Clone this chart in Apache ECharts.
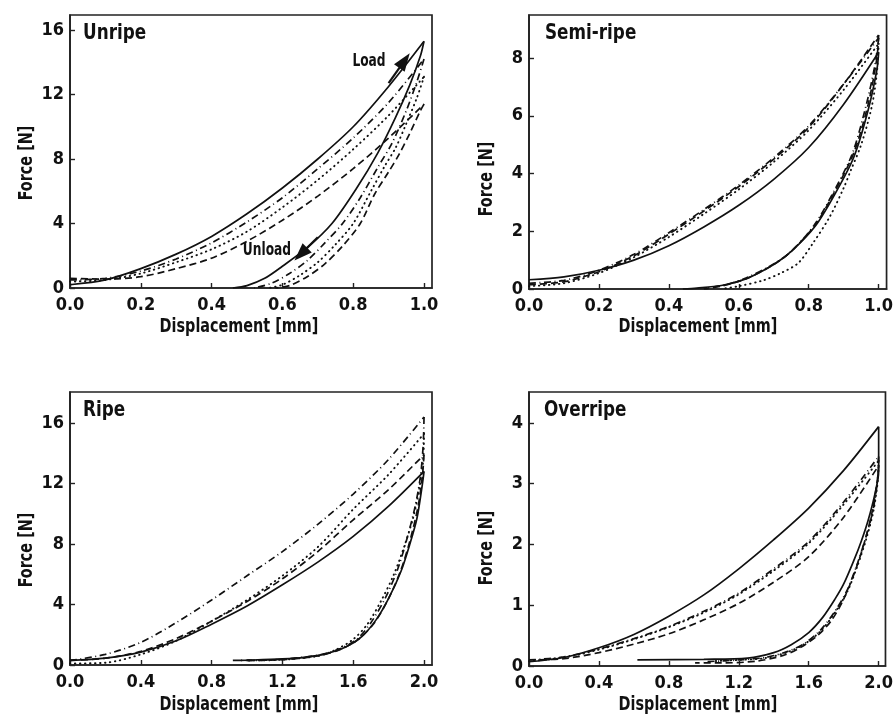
<!DOCTYPE html>
<html><head><meta charset="utf-8">
<script src="https://cdn.jsdelivr.net/npm/echarts@6/dist/echarts.min.js"></script>
<style>html,body{margin:0;padding:0;background:#fff}#c{width:896px;height:717px}</style>
</head><body><div id="c"></div>
<script>
// ---------- data ----------
const panelTitles = ['Unripe', 'Semi-ripe', 'Ripe', 'Overripe'];
const xAxisTitle = 'Displacement [mm]';
const yAxisTitle = 'Force [N]';
const xTicks12 = [0, 0.2, 0.4, 0.6, 0.8, 1.0];
const xTicks34 = [0, 0.4, 0.8, 1.2, 1.6, 2.0];
const yTicksUnripe = [0, 4, 8, 12, 16];
const yTicksSemi = [0, 2, 4, 6, 8];
const yTicksRipe = [0, 4, 8, 12, 16];
const yTicksOver = [0, 1, 2, 3, 4];

// Unripe (displacement 0..1 mm)
const unripeLoadX = [0, 0.1, 0.2, 0.3, 0.4, 0.5, 0.6, 0.7, 0.8, 0.9, 1.0];
const unripeSolidLoad = [0.2, 0.5, 1.2, 2.1, 3.2, 4.6, 6.2, 8.0, 10.0, 12.5, 15.3];
const unripeDashDotLoad = [0.5, 0.6, 1.05, 1.8, 2.8, 4.1, 5.6, 7.4, 9.3, 11.5, 14.2];
const unripeDottedLoad = [0.4, 0.5, 0.9, 1.6, 2.4, 3.5, 5.0, 6.7, 8.6, 10.7, 13.1];
const unripeDashedLoad = [0.6, 0.55, 0.7, 1.2, 1.85, 2.9, 4.2, 5.7, 7.4, 9.3, 11.4];
const unripeSolidUnload = [[1.0,15.3],[0.99,14.4],[0.96,12.6],[0.92,10.6],[0.87,8.4],[0.81,6.2],[0.74,4.0],[0.67,2.5],[0.6,1.35],[0.55,0.6],[0.5,0.15],[0.46,0.0]];
const unripeDashDotUnload = [[1.0,14.2],[0.98,12.8],[0.95,11.0],[0.91,9.0],[0.87,7.5],[0.82,5.6],[0.77,4.0],[0.72,2.8],[0.67,1.7],[0.62,0.9],[0.57,0.3],[0.52,0.0]];
const unripeDottedUnload = [[1.0,13.1],[0.98,11.8],[0.95,10.2],[0.92,8.7],[0.89,7.6],[0.85,6.0],[0.8,4.0],[0.75,2.7],[0.7,1.6],[0.65,0.8],[0.6,0.2],[0.56,0.0]];
const unripeDashedUnload = [[1.0,11.4],[0.99,11.0],[0.96,9.6],[0.93,8.3],[0.9,7.2],[0.86,5.8],[0.82,4.0],[0.77,2.6],[0.72,1.5],[0.67,0.7],[0.62,0.15],[0.58,0.0]];

// Semi-ripe (0..1 mm)
const semiLoadX = [0, 0.1, 0.2, 0.3, 0.4, 0.5, 0.6, 0.7, 0.8, 0.9, 1.0];
const semiSolidLoad = [0.32, 0.42, 0.65, 1.0, 1.5, 2.15, 2.9, 3.8, 4.9, 6.4, 8.2];
const semiDashedLoad = [0.15, 0.25, 0.6, 1.15, 1.9, 2.7, 3.55, 4.5, 5.6, 7.1, 8.8];
const semiDashDotLoad = [0.2, 0.3, 0.65, 1.2, 1.95, 2.75, 3.6, 4.55, 5.65, 7.1, 8.7];
const semiDottedLoad = [0.1, 0.2, 0.55, 1.1, 1.8, 2.6, 3.45, 4.4, 5.5, 6.9, 8.5];
const semiSolidUnload = [[1.0,8.2],[0.995,7.6],[0.97,6.2],[0.93,4.6],[0.88,3.4],[0.82,2.2],[0.75,1.3],[0.7,0.85],[0.62,0.35],[0.55,0.12],[0.48,0.03],[0.44,0.0]];
const semiDashedUnload = [[1.0,8.8],[0.995,8.0],[0.97,6.4],[0.93,4.75],[0.88,3.5],[0.82,2.25],[0.75,1.3],[0.7,0.85],[0.62,0.35],[0.55,0.1],[0.5,0.0]];
const semiDashDotUnload = [[1.0,8.7],[0.99,7.8],[0.965,6.4],[0.925,4.7],[0.875,3.45],[0.815,2.2],[0.745,1.25],[0.69,0.8],[0.62,0.38],[0.56,0.14],[0.5,0.02]];
const semiDottedUnload = [[1.0,8.5],[0.995,7.5],[0.98,6.3],[0.95,5.0],[0.92,4.1],[0.9,3.5],[0.86,2.5],[0.81,1.55],[0.77,0.9],[0.72,0.55],[0.67,0.3],[0.6,0.1],[0.55,0.0]];

// Ripe (0..2 mm)
const ripeLoadX = [0, 0.2, 0.4, 0.6, 0.8, 1.0, 1.2, 1.4, 1.6, 1.8, 2.0];
const ripeSolidLoad = [0.3, 0.45, 0.85, 1.6, 2.7, 3.9, 5.3, 6.8, 8.5, 10.5, 12.8];
const ripeDashDotLoad = [0.3, 0.7, 1.5, 2.8, 4.3, 5.9, 7.5, 9.3, 11.3, 13.6, 16.4];
const ripeDottedLoad = [0.1, 0.15, 0.7, 1.6, 2.9, 4.3, 5.9, 7.8, 10.3, 12.6, 15.3];
const ripeDashedLoad = [0.3, 0.45, 0.9, 1.75, 2.9, 4.2, 5.7, 7.5, 9.6, 11.6, 13.9];
const ripeSolidUnload = [[2.0,12.8],[1.99,11.9],[1.96,9.7],[1.92,8.0],[1.87,6.2],[1.8,4.4],[1.73,3.0],[1.65,1.9],[1.56,1.2],[1.45,0.75],[1.32,0.5],[1.2,0.4],[1.0,0.32],[0.92,0.3]];
const ripeDashDotUnload = [[2.0,16.4],[1.995,14.5],[1.98,12.5],[1.95,10.5],[1.9,8.2],[1.85,6.3],[1.78,4.4],[1.7,2.8],[1.62,1.7],[1.52,1.05],[1.4,0.65],[1.2,0.38],[1.0,0.3],[0.95,0.3]];
const ripeDottedUnload = [[2.0,15.3],[1.995,13.5],[1.975,11.8],[1.94,9.8],[1.89,7.9],[1.83,6.0],[1.76,4.3],[1.68,2.7],[1.6,1.7],[1.5,1.0],[1.4,0.6],[1.2,0.35],[1.0,0.3]];
const ripeDashedUnload = [[2.0,13.9],[1.99,12.4],[1.965,10.4],[1.92,8.2],[1.87,6.3],[1.8,4.4],[1.72,2.8],[1.63,1.7],[1.53,1.05],[1.4,0.6],[1.2,0.35],[1.0,0.3]];

// Overripe (0..2 mm)
const overLoadX = [0, 0.2, 0.4, 0.6, 0.8, 1.0, 1.2, 1.4, 1.6, 1.8, 2.0];
const overSolidLoad = [0.07, 0.14, 0.3, 0.52, 0.82, 1.17, 1.6, 2.08, 2.6, 3.22, 3.94];
const overDashDotLoad = [0.1, 0.15, 0.28, 0.45, 0.65, 0.9, 1.2, 1.6, 2.05, 2.7, 3.45];
const overDottedLoad = [0.08, 0.14, 0.27, 0.44, 0.64, 0.88, 1.18, 1.57, 2.02, 2.66, 3.38];
const overDashedLoad = [0.1, 0.12, 0.22, 0.36, 0.53, 0.76, 1.03, 1.38, 1.8, 2.45, 3.3];
const overSolidUnload = [[2.0,3.94],[2.0,3.2],[1.98,2.85],[1.94,2.4],[1.9,2.05],[1.86,1.75],[1.8,1.35],[1.75,1.1],[1.68,0.8],[1.6,0.55],[1.5,0.35],[1.4,0.22],[1.25,0.13],[1.0,0.11],[0.62,0.1]];
const overDashDotUnload = [[2.0,3.45],[1.995,3.1],[1.97,2.6],[1.93,2.15],[1.88,1.7],[1.82,1.25],[1.75,0.9],[1.67,0.6],[1.58,0.38],[1.48,0.24],[1.35,0.14],[1.2,0.1],[1.0,0.07]];
const overDottedUnload = [[2.0,3.38],[1.995,3.05],[1.97,2.55],[1.93,2.1],[1.88,1.66],[1.82,1.22],[1.75,0.88],[1.67,0.58],[1.58,0.37],[1.48,0.23],[1.35,0.13],[1.2,0.1],[1.05,0.08]];
const overDashedUnload = [[2.0,3.3],[1.99,3.0],[1.96,2.5],[1.92,2.05],[1.87,1.6],[1.8,1.1],[1.73,0.75],[1.65,0.5],[1.55,0.3],[1.45,0.17],[1.3,0.08],[1.1,0.05],[0.95,0.05]];

// annotation arrows (data coords, Unripe panel)
const loadArrow = [[0.9, 12.7], [0.945, 14.1]];
const unloadArrow = [[0.70, 3.15], [0.652, 2.1]];

// ---------- chart ----------
const FONT = "'DejaVu Sans Condensed','Liberation Sans Narrow',sans-serif";
const INK = '#111';
const STYLES = {
  solid: {type: 'solid', width: 1.7},
  dashed: {type: [7, 4], width: 1.7},
  dotted: {type: [0.5, 4.5], width: 1.9, cap: 'round'},
  dashdot: {type: [7, 3.5, 1, 3.5], width: 1.7}
};

const panels = [
  {grid: {left: 70, top: 15, width: 362, height: 273}, xMax: 1.0226, xInt: 0.2, xTicks: xTicks12, yMax: 16.93, yInt: 4, yTicks: yTicksUnripe,
   title: [83, 33], xName: [239, 327], yName: [27, 163],
   curves: [['solid', unripeLoadX, unripeSolidLoad, unripeSolidUnload], ['dashdot', unripeLoadX, unripeDashDotLoad, unripeDashDotUnload],
            ['dotted', unripeLoadX, unripeDottedLoad, unripeDottedUnload], ['dashed', unripeLoadX, unripeDashedLoad, unripeDashedUnload]]},
  {grid: {left: 529, top: 15, width: 362, height: 274}, xMax: 1.0226, xInt: 0.2, xTicks: xTicks12, yMax: 9.49, yInt: 2, yTicks: yTicksSemi,
   title: [545, 33], xName: [698, 327], yName: [487, 179],
   curves: [['solid', semiLoadX, semiSolidLoad, semiSolidUnload], ['dashed', semiLoadX, semiDashedLoad, semiDashedUnload],
            ['dashdot', semiLoadX, semiDashDotLoad, semiDashDotUnload], ['dotted', semiLoadX, semiDottedLoad, semiDottedUnload]]},
  {grid: {left: 70, top: 392, width: 362, height: 273}, xMax: 2.045, xInt: 0.4, xTicks: xTicks34, yMax: 18.05, yInt: 4, yTicks: yTicksRipe,
   title: [83, 410], xName: [239, 705], yName: [27, 550],
   curves: [['solid', ripeLoadX, ripeSolidLoad, ripeSolidUnload], ['dashdot', ripeLoadX, ripeDashDotLoad, ripeDashDotUnload],
            ['dotted', ripeLoadX, ripeDottedLoad, ripeDottedUnload], ['dashed', ripeLoadX, ripeDashedLoad, ripeDashedUnload]]},
  {grid: {left: 529, top: 392, width: 362, height: 274}, xMax: 2.039, xInt: 0.4, xTicks: xTicks34, yMax: 4.51, yInt: 1, yTicks: yTicksOver,
   title: [544, 410], xName: [698, 705], yName: [487, 548],
   curves: [['solid', overLoadX, overSolidLoad, overSolidUnload], ['dashdot', overLoadX, overDashDotLoad, overDashDotUnload],
            ['dotted', overLoadX, overDottedLoad, overDottedUnload], ['dashed', overLoadX, overDashedLoad, overDashedUnload]]}
];

function inList(v, list) { return list.some(t => Math.abs(t - v) < 1e-6); }
function txt(text, x, y, size, opts) {
  return Object.assign({type: 'text', x: x, y: y, silent: true, scaleX: 0.8, z: 10,
    style: {text: text, fontFamily: FONT, fontWeight: 'bold', fontSize: size, fill: INK, align: 'center', verticalAlign: 'middle'}}, opts || {});
}

const grids = [], xAxes = [], yAxes = [], series = [], graphics = [];
panels.forEach((p, i) => {
  grids.push(Object.assign({show: true, borderColor: '#222', borderWidth: 1.7, backgroundColor: '#fff'}, p.grid));
  xAxes.push({
    type: 'value', gridIndex: i, min: 0, max: p.xMax, interval: p.xInt,
    axisLine: {show: true, onZero: false, lineStyle: {color: '#222', width: 1.7}},
    axisTick: {show: true, inside: true, length: 5, lineStyle: {color: '#222', width: 1.4}},
    splitLine: {show: false},
    axisLabel: {show: true, showMaxLabel: false, margin: 8, fontFamily: FONT, fontWeight: 'bold', fontSize: 18, color: INK,
      formatter: v => inList(v, p.xTicks) ? v.toFixed(1) : ''}
  });
  yAxes.push({
    type: 'value', gridIndex: i, min: 0, max: p.yMax, interval: p.yInt,
    axisLine: {show: true, onZero: false, lineStyle: {color: '#222', width: 1.7}},
    axisTick: {show: true, inside: true, length: 5, lineStyle: {color: '#222', width: 1.4}},
    splitLine: {show: false},
    axisLabel: {show: true, showMaxLabel: false, margin: 6, fontFamily: FONT, fontWeight: 'bold', fontSize: 18, color: INK,
      formatter: v => inList(v, p.yTicks) ? String(v) : ''}
  });
  p.curves.forEach(([sty, xs, ys, unload], k) => {
    const base = {type: 'line', xAxisIndex: i, yAxisIndex: i, showSymbol: false, symbol: 'none', smooth: 0.3,
      lineStyle: Object.assign({color: INK}, STYLES[sty]), animation: false, silent: true, z: 3};
    const load = Object.assign({}, base, {name: panelTitles[i] + ' ' + sty + ' load', data: xs.map((x, j) => [x, ys[j]])});
    const un = Object.assign({}, base, {name: panelTitles[i] + ' ' + sty + ' unload', data: unload});
    if (i === 0 && k === 0) {
      const ml = arr => ({
        silent: true, animation: false, symbol: ['none', 'triangle'], symbolSize: [13, 18],
        label: {show: false}, lineStyle: {color: INK, type: 'solid', width: 2.2},
        data: [[{coord: arr[0]}, {coord: arr[1]}]]
      });
      load.markLine = ml(loadArrow);
      un.markLine = ml(unloadArrow);
    }
    series.push(load, un);
  });
  graphics.push(txt(panelTitles[i], p.title[0], p.title[1], 22, {scaleX: 0.85, style: {text: panelTitles[i], fontFamily: FONT, fontWeight: 'bold', fontSize: 22, fill: INK, align: 'left', verticalAlign: 'middle'}}));
  graphics.push(txt(xAxisTitle, p.xName[0], p.xName[1], 20));
  graphics.push(txt(yAxisTitle, p.yName[0], p.yName[1], 20, {rotation: Math.PI / 2}));
});
graphics.push(txt('Load', 369, 62, 17));
graphics.push(txt('Unload', 267, 251, 17));

const chart = echarts.init(document.getElementById('c'), null, {renderer: 'canvas'});
chart.setOption({
  animation: false,
  backgroundColor: '#fff',
  grid: grids, xAxis: xAxes, yAxis: yAxes, series: series, graphic: graphics
});
</script>
</body></html>
